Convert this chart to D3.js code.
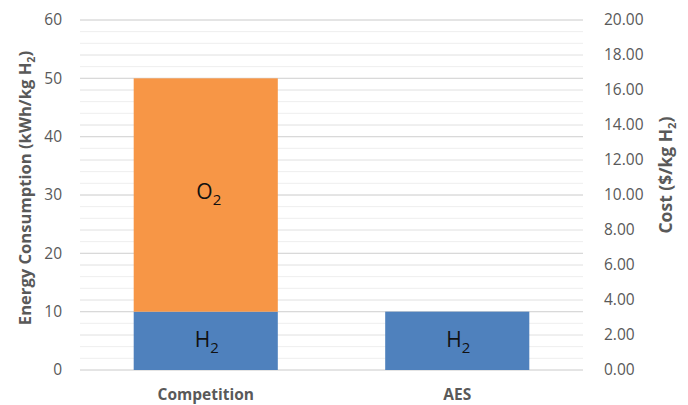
<!DOCTYPE html>
<html><head><meta charset="utf-8">
<script src="https://cdn.jsdelivr.net/npm/d3@7"></script>
<style>body{margin:0;background:#fff;} text{font-family:"Open Sans",sans-serif;}</style>
</head><body>
<svg id="c" width="688" height="405"></svg>
<script>
const categories = ["Competition", "AES"];
const h2Values = [10, 10];
const o2Values = [40, 0];
const leftTicks = [0, 10, 20, 30, 40, 50, 60];
const rightTicks = [0, 2, 4, 6, 8, 10, 12, 14, 16, 18, 20];
const minorTicks = d3.range(0, 61, 2);

const svg = d3.select("#c");
const m = {l: 80, r: 105, t: 20, b: 35};
const W = 688, H = 405;
const x = d3.scaleBand().domain(categories).range([m.l, W - m.r]).paddingInner(0.427).paddingOuter(0.2135);
const y = d3.scaleLinear().domain([0, 60]).range([H - m.b, m.t]);
const y2 = d3.scaleLinear().domain([0, 20]).range([H - m.b, m.t]);

svg.append("g").selectAll("line").data(minorTicks).join("line")
  .attr("x1", m.l).attr("x2", W - m.r)
  .attr("y1", d => y(d)).attr("y2", d => y(d))
  .attr("stroke", "#eeeeee").attr("stroke-width", 1);
svg.append("g").selectAll("line").data(rightTicks).join("line")
  .attr("x1", m.l).attr("x2", W - m.r)
  .attr("y1", d => y2(d)).attr("y2", d => y2(d))
  .attr("stroke", "#e8e8e8").attr("stroke-width", 1);
svg.append("g").selectAll("line").data(leftTicks).join("line")
  .attr("x1", m.l).attr("x2", W - m.r)
  .attr("y1", d => y(d)).attr("y2", d => y(d))
  .attr("stroke", "#d9d9d9").attr("stroke-width", 1.2);

const stack = categories.map((c, i) => ({c, h: h2Values[i], o: o2Values[i]}));
const g = svg.append("g");
g.selectAll("rect.h").data(stack).join("rect").attr("class", "h")
  .attr("x", d => x(d.c)).attr("width", x.bandwidth())
  .attr("y", d => y(d.h)).attr("height", d => y(0) - y(d.h))
  .attr("fill", "#4f81bd");
g.selectAll("rect.o").data(stack.filter(d => d.o > 0)).join("rect").attr("class", "o")
  .attr("x", d => x(d.c)).attr("width", x.bandwidth())
  .attr("y", d => y(d.h + d.o)).attr("height", d => y(d.h) - y(d.h + d.o))
  .attr("fill", "#f79646");

function chem(sel, base) {
  sel.attr("font-family", "Liberation Sans, Arial, sans-serif").attr("font-size", 21).attr("fill", "#111")
    .attr("text-anchor", "middle");
  sel.append("tspan").text(base);
  sel.append("tspan").attr("font-size", 15).attr("dy", 6).text("2");
}
stack.forEach(d => {
  const cx = x(d.c) + x.bandwidth() / 2;
  chem(svg.append("text").attr("x", cx + 1).attr("y", (y(0) + y(d.h)) / 2 + 6), "H");
  if (d.o > 0) chem(svg.append("text").attr("x", cx + 3).attr("y", (y(d.h) + y(d.h + d.o)) / 2 + 4), "O");
});

const la = svg.append("g").attr("transform", `translate(${m.l},0)`)
  .call(d3.axisLeft(y).tickValues(leftTicks).tickSize(0).tickPadding(18));
la.select(".domain").remove();
la.selectAll("text").attr("font-size", 15.5).attr("fill", "#595959").attr("font-family", "Open Sans, sans-serif");

const ra = svg.append("g").attr("transform", `translate(${W - m.r},0)`)
  .call(d3.axisRight(y2).tickValues(rightTicks).tickFormat(d3.format(".2f")).tickSize(0).tickPadding(21));
ra.select(".domain").remove();
ra.selectAll("text").attr("font-size", 15.5).attr("fill", "#595959").attr("font-family", "Open Sans, sans-serif");

svg.append("g").selectAll("text").data(categories).join("text")
  .attr("x", d => x(d) + x.bandwidth() / 2).attr("y", 400)
  .attr("text-anchor", "middle").attr("font-size", 15.5).attr("font-weight", 700)
  .attr("fill", "#595959").text(d => d);

function title(tx, ty, main, fs) {
  const t = svg.append("text").attr("transform", `translate(${tx},${ty}) rotate(-90)`)
    .attr("text-anchor", "middle").attr("font-size", fs).attr("font-weight", 700).attr("fill", "#595959");
  t.append("tspan").text(main);
  t.append("tspan").attr("font-size", fs * 0.65).attr("dy", 4).text("2");
  t.append("tspan").attr("dy", -4).text(")");
}
title(31, 188, "Energy Consumption (kWh/kg H", 16.6);
title(672, 175, "Cost ($/kg H", 17.5);
</script>
</body></html>
